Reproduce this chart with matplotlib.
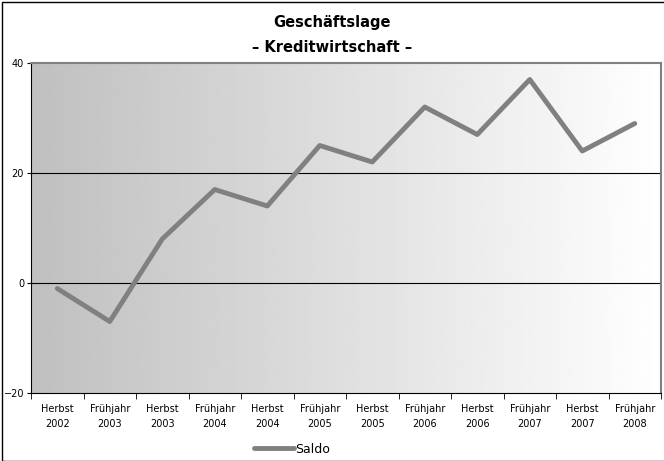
import matplotlib
matplotlib.use("Agg")
import matplotlib.pyplot as plt
import numpy as np
from matplotlib.patches import Rectangle

plt.rcParams['font.family'] = ['Liberation Sans Narrow', 'DejaVu Sans']

labels = ['Herbst\n2002', 'Frühjahr\n2003', 'Herbst\n2003', 'Frühjahr\n2004',
          'Herbst\n2004', 'Frühjahr\n2005', 'Herbst\n2005', 'Frühjahr\n2006',
          'Herbst\n2006', 'Frühjahr\n2007', 'Herbst\n2007', 'Frühjahr\n2008']
saldo = [-1, -7, 8, 17, 14, 25, 22, 32, 27, 37, 24, 29]

fig = plt.figure(figsize=(6.64, 4.61), dpi=100)
ax = fig.add_axes([31 / 664, 68 / 461, 630 / 664, 330 / 461])

x = np.arange(len(saldo))
ax.set_xlim(-0.5, len(saldo) - 0.5)
ax.set_ylim(-20, 40)

# grey-to-white gradient background
grad = np.linspace(0.75, 1.0, 256).reshape(1, -1)
ax.imshow(grad, cmap='gray', vmin=0, vmax=1, aspect='auto',
          extent=[-0.5, len(saldo) - 0.5, -20, 40], zorder=0)

for y in [0, 20]:
    ax.axhline(y, color='black', lw=0.8, zorder=1)

ax.plot(x, saldo, color='#808080', lw=3.5, solid_capstyle='round',
        solid_joinstyle='round', zorder=3, label='Saldo')

ax.set_yticks([-20, 0, 20, 40])
ax.tick_params(axis='y', labelsize=7, length=3, direction='out', pad=2)
ax.set_xticks(x)
ax.set_xticklabels(labels, fontsize=7, linespacing=1.6)
ax.tick_params(axis='x', length=0, pad=8)
ax.set_xticks(np.arange(-0.5, len(saldo)), minor=True)
ax.tick_params(axis='x', which='minor', length=4, direction='out')

for s in ['top', 'right']:
    ax.spines[s].set_color('#808080')
    ax.spines[s].set_linewidth(1.5)
ax.spines['left'].set_color('black')
ax.spines['bottom'].set_color('black')

fig.text(0.5, 1 - 22 / 461, 'Geschäftslage', ha='center', va='center',
         fontsize=10.5, fontweight='bold')
fig.text(0.5, 1 - 47 / 461, '– Kreditwirtschaft –', ha='center', va='center',
         fontsize=10.5, fontweight='bold')

ax.legend(loc='center', bbox_to_anchor=(0.414, -0.17), frameon=False,
          fontsize=9, handlelength=3.2, handletextpad=0.1)

fig.patches.append(Rectangle((2 / 664, 0), 1, 1 - 2 / 461, transform=fig.transFigure,
                             fill=False, edgecolor='black', lw=1))

fig.savefig('out.png', dpi=100)
